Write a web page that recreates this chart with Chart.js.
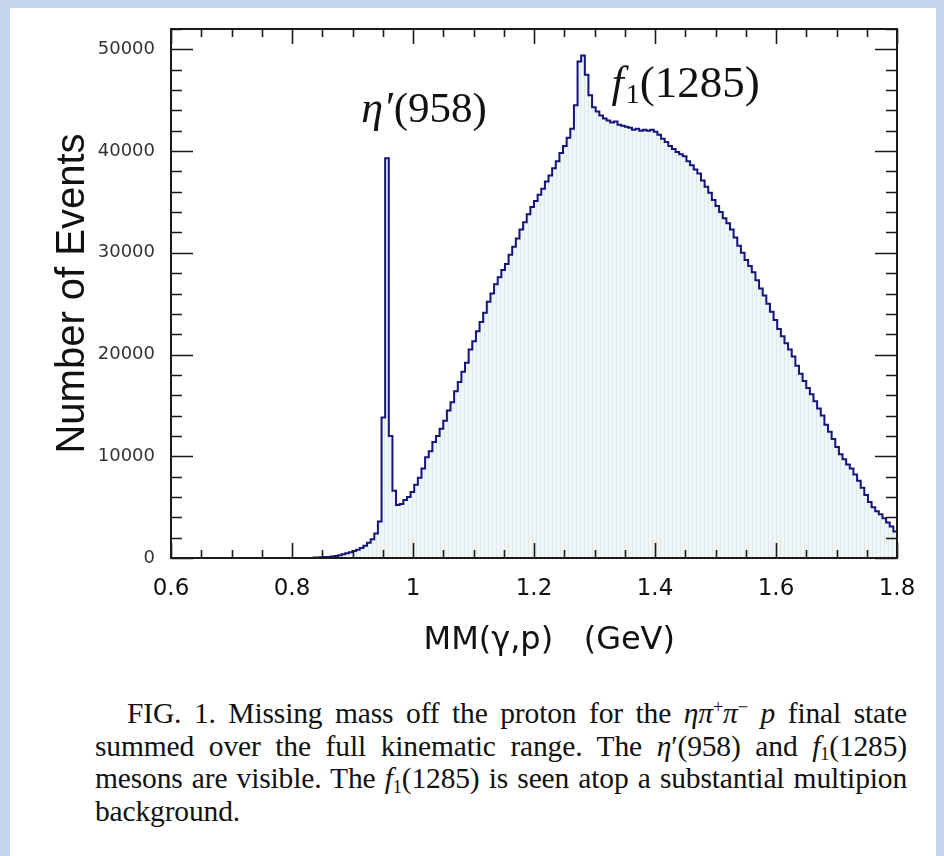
<!DOCTYPE html>
<html>
<head>
<meta charset="utf-8">
<script src="https://cdn.jsdelivr.net/npm/chart.js@4.4.1/dist/chart.umd.min.js"></script>
<style>
  html, body { margin: 0; padding: 0; }
  body { width: 944px; height: 856px; background: #c6d4f0; position: relative; overflow: hidden; }
  #paper { position: absolute; left: 10px; top: 8px; width: 926px; height: 848px; background: #fff; }
  #plot { position: absolute; left: 0; top: 0; }
  #caption { position: absolute; left: 95px; top: 697px; width: 812px;
             font-family: "Liberation Serif", "Times New Roman", serif; font-size: 29.5px;
             letter-spacing: -0.15px; color: #111; }
  #caption .line { height: 32.5px; line-height: 32.5px; white-space: nowrap;
                   text-align: justify; text-align-last: justify; }
  #caption .line.last { text-align-last: left; }
  #caption .first { padding-left: 32px; }
  #caption sup, #caption sub { font-size: 0.62em; vertical-align: 0; position: relative; line-height: 0; }
  #caption sup { top: -0.55em; }
  #caption sub { top: 0.25em; }
</style>
</head>
<body>
<div id="paper"></div>
<canvas id="plot" width="944" height="680"></canvas>
<div id="caption">
  <div class="line first">FIG. 1. Missing mass off the proton for the <i>ηπ</i><sup>+</sup><i>π</i><sup>−</sup> <i>p</i> final state</div>
  <div class="line">summed over the full kinematic range. The <i>η</i>′(958) and <i>f</i><sub>1</sub>(1285)</div>
  <div class="line">mesons are visible. The <i>f</i><sub>1</sub>(1285) is seen atop a substantial multipion</div>
  <div class="line last">background.</div>
</div>
<script>
// histogram: 6 MeV bins, first non-empty bin starts at 0.834 GeV
const binStart = 0.834;
const binWidth = 0.006;
const counts = [
    60, 60, 80, 100, 100, 150, 200, 280, 370, 470, 560,
    680, 820, 980, 1200, 1500, 1850, 2400, 3600, 13800, 39300,
    12000, 6600, 5200, 5300, 5700, 6000, 6500, 7200, 7900, 8800,
    9900, 10500, 11400, 12000, 12700, 13500, 14500, 15300, 16400, 17300,
    18300, 19200, 20500, 21300, 22300, 23200, 24100, 25200, 26000, 26900,
    27600, 28300, 28900, 29800, 30600, 31400, 32300, 33000, 33800, 34500,
    35100, 35700, 36300, 37000, 37600, 38300, 39000, 39800, 40500, 41300,
    42200, 44500, 48800, 49400, 47500, 45500, 44300, 43900, 43500, 43200,
    43000, 42800, 42900, 42600, 42500, 42400, 42300, 42100, 42200, 42000,
    42100, 42000, 42100, 41900, 41600, 41200, 40900, 40500, 40200, 39900,
    39700, 39500, 39000, 38600, 38200, 37800, 37100, 36500, 35900, 35200,
    34600, 34000, 33400, 32900, 32300, 31500, 30700, 30000, 29300, 28700,
    28100, 27300, 26500, 25800, 25000, 24200, 23400, 22500, 21800, 21100,
    20500, 19800, 18900, 18100, 17400, 16700, 16100, 15400, 14700, 14000,
    13100, 12400, 11700, 10900, 10200, 9700, 9200, 8800, 8200, 7600,
    6900, 6200, 5500, 5000, 4600, 4300, 3900, 3500, 3100, 2600
];

// axis ticks
const xMajorTicks = [0.6, 0.8, 1.0, 1.2, 1.4, 1.6, 1.8];
const xMinorStep = 0.05;
const yMajorTicks = [0, 10000, 20000, 30000, 40000, 50000];
const yMinorStep = 2000;
const xRange = [0.6, 1.8];
const yRange = [0, 52000];

// bin low edges, plus a closing point at the upper edge of the last bin
const histPoints = counts.map((c, i) => ({ x: binStart + i * binWidth, y: c }));
histPoints.push({ x: binStart + counts.length * binWidth, y: counts[counts.length - 1] });

// faint vertical hatch like the original fill
function makeFillPattern() {
    const pc = document.createElement('canvas');
    pc.width = 4; pc.height = 4;
    const p = pc.getContext('2d');
    p.fillStyle = '#f0f5f5';
    p.fillRect(0, 0, 4, 4);
    p.fillStyle = '#dfeaea';
    p.fillRect(0, 0, 1, 4);
    return document.getElementById('plot').getContext('2d').createPattern(pc, 'repeat');
}

// ROOT style frame with inward ticks on all four sides
const frameTicks = {
    id: 'frameTicks',
    afterDraw(chart) {
        const { ctx, chartArea: a, scales: { x, y } } = chart;
        ctx.save();
        ctx.strokeStyle = '#1a1a1a';
        ctx.lineWidth = 2;
        ctx.strokeRect(a.left, a.top, a.right - a.left, a.bottom - a.top);
        ctx.lineWidth = 1.6;
        ctx.beginPath();
        for (let v = xRange[0]; v <= xRange[1] + 1e-9; v += xMinorStep) {
            const px = Math.round(x.getPixelForValue(v)) + 0.5;
            const major = xMajorTicks.some(t => Math.abs(t - v) < 1e-6);
            const len = major ? 15 : 8;
            ctx.moveTo(px, a.bottom); ctx.lineTo(px, a.bottom - len);
            ctx.moveTo(px, a.top); ctx.lineTo(px, a.top + len);
        }
        for (let v = yRange[0]; v <= yRange[1] + 1e-9; v += yMinorStep) {
            const py = Math.round(y.getPixelForValue(v)) + 0.5;
            const major = yMajorTicks.includes(v);
            const len = major ? 22 : 11;
            ctx.moveTo(a.left, py); ctx.lineTo(a.left + len, py);
            ctx.moveTo(a.right, py); ctx.lineTo(a.right - len, py);
        }
        ctx.stroke();
        ctx.restore();
    }
};

// resonance labels
const peakLabels = {
    id: 'peakLabels',
    afterDraw(chart) {
        const { ctx, scales: { x, y } } = chart;
        ctx.save();
        ctx.fillStyle = '#111';
        ctx.textBaseline = 'alphabetic';
        ctx.textAlign = 'left';

        let px = x.getPixelForValue(0.9146), py = y.getPixelForValue(42830);
        ctx.font = 'italic 44px "Liberation Serif"';
        ctx.fillText('η′', px, py);
        px += ctx.measureText('η′').width + 1;
        ctx.font = '43px "Liberation Serif"';
        ctx.fillText('(958)', px, py);

        px = x.getPixelForValue(1.328); py = y.getPixelForValue(45300);
        ctx.font = 'italic 44px "Liberation Serif"';
        ctx.fillText('f', px, py);
        px += ctx.measureText('f').width + 2;
        ctx.font = '28px "Liberation Serif"';
        ctx.fillText('1', px, py + 6);
        px += ctx.measureText('1').width;
        ctx.font = '45px "Liberation Serif"';
        ctx.fillText('(1285)', px, py);
        ctx.restore();
    }
};

new Chart(document.getElementById('plot'), {
    type: 'line',
    data: {
        datasets: [{
            data: histPoints,
            stepped: 'before',
            borderColor: '#14147a',
            borderWidth: 2,
            pointRadius: 0,
            fill: 'origin',
            backgroundColor: makeFillPattern()
        }]
    },
    options: {
        responsive: false,
        animation: false,
        layout: { padding: { left: 0, top: 29, right: 47, bottom: 0 } },
        plugins: {
            legend: { display: false },
            tooltip: { enabled: false }
        },
        scales: {
            x: {
                type: 'linear',
                min: xRange[0],
                max: xRange[1],
                afterFit: (s) => { s.height = 122; },
                afterBuildTicks: (s) => { s.ticks = xMajorTicks.map(v => ({ value: v })); },
                grid: { display: false },
                border: { display: false },
                ticks: {
                    autoSkip: false,
                    maxRotation: 0,
                    padding: 9,
                    color: '#111',
                    font: { family: 'DejaVu Sans', size: 23 },
                    callback: (v) => parseFloat(v.toFixed(2)).toString()
                },
                title: {
                    display: true,
                    text: '   MM(γ,p)   (GeV)',
                    color: '#111',
                    font: { family: 'DejaVu Sans', size: 32 },
                    padding: { top: 0, bottom: 20 }
                }
            },
            y: {
                min: yRange[0],
                max: yRange[1],
                afterFit: (s) => { s.width = 171; },
                afterBuildTicks: (s) => { s.ticks = yMajorTicks.map(v => ({ value: v })); },
                grid: { display: false },
                border: { display: false },
                ticks: {
                    padding: 8,
                    color: '#333',
                    font: { family: 'DejaVu Sans', size: 18 },
                    callback: (v) => String(v)
                },
                title: {
                    display: true,
                    text: 'Number of Events',
                    color: '#111',
                    font: { family: 'Liberation Sans', size: 40 },
                    padding: { top: 49, bottom: 0 }
                }
            }
        }
    },
    plugins: [frameTicks, peakLabels]
});
</script>
</body>
</html>
